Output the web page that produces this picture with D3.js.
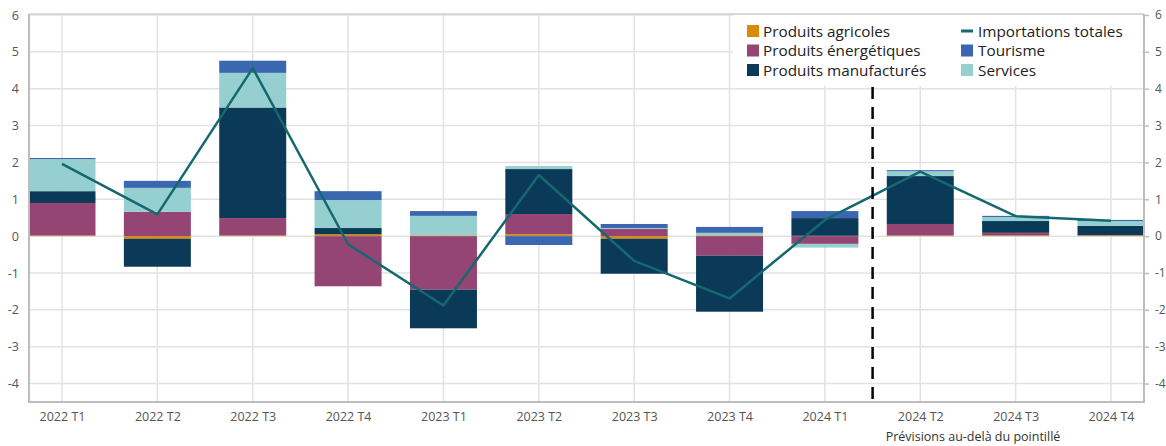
<!DOCTYPE html>
<html><head><meta charset="utf-8">
<script src="https://cdn.jsdelivr.net/npm/d3@7"></script>
<style>
body{margin:0;background:#fff;}
svg text{font-family:"Open Sans","Noto Sans",sans-serif;}
</style></head>
<body><svg id="c" width="1166" height="446"></svg>
<script>
const categories = ["2022 T1","2022 T2","2022 T3","2022 T4","2023 T1","2023 T2","2023 T3","2023 T4","2024 T1","2024 T2","2024 T3","2024 T4"];
const agricoles     = [0.02,-0.07,0.02,0.05,0.02,0.05,-0.07,0.02,0.01,0.02,0.02,0.02];
const energetiques  = [0.88,0.66,0.47,-1.36,-1.45,0.55,0.20,-0.53,-0.21,0.31,0.07,0.01];
const manufactures  = [0.32,-0.76,3.00,0.17,-1.05,1.22,-0.95,-1.52,0.48,1.30,0.32,0.25];
const services      = [0.87,0.65,0.94,0.76,0.53,0.08,0.02,0.07,-0.10,0.13,0.11,0.13];
const tourisme      = [0.03,0.19,0.33,0.24,0.13,-0.24,0.11,0.16,0.19,0.03,0.03,0.03];
const importations  = [1.96,0.59,4.56,-0.22,-1.88,1.66,-0.67,-1.69,0.44,1.75,0.54,0.42];
const yTicks = [-4,-3,-2,-1,0,1,2,3,4,5,6];
const seriesNames = ["Produits agricoles","Produits énergétiques","Produits manufacturés","Services","Tourisme"];
const seriesColors = ["#d98a06","#944573","#0b3a59","#96cfcf","#3b67b1"];
const lineName = "Importations totales";
const lineColor = "#15686f";
const forecastNote = "Prévisions au-delà du pointillé";

const svg = d3.select("#c");
const L = 29, R = 1144, T = 14, B = 402;
const x = d3.scalePoint().domain(categories).range([62, 1111]);
const y = d3.scaleLinear().domain([-4.5, 6]).range([B, 15]);
const barW = 67;

// gridlines
svg.append("g").selectAll("line.h").data(yTicks).join("line")
  .attr("x1", L).attr("x2", R).attr("y1", d => y(d)).attr("y2", d => y(d))
  .attr("stroke", "#e2e2e2").attr("stroke-width", 1.5);
svg.append("g").selectAll("line.v").data(categories).join("line")
  .attr("x1", d => x(d)).attr("x2", d => x(d)).attr("y1", T).attr("y2", B)
  .attr("stroke", "#e2e2e2").attr("stroke-width", 1.5);

// legend background
svg.append("rect").attr("x", 733).attr("y", 15).attr("width", 409).attr("height", 71).attr("fill", "#fff");

// stacked bars
const rows = categories.map((c, i) => ({cat: c, s0: agricoles[i], s1: energetiques[i], s2: manufactures[i], s3: services[i], s4: tourisme[i]}));
const stack = d3.stack().keys(["s0","s1","s2","s3","s4"]).offset(d3.stackOffsetDiverging);
const layers = stack(rows);
svg.append("g").selectAll("g").data(layers).join("g")
  .attr("fill", (d, i) => seriesColors[i])
  .selectAll("rect").data(d => d).join("rect")
  .attr("x", d => x(d.data.cat) - barW / 2)
  .attr("width", barW)
  .attr("y", d => y(Math.max(d[0], d[1])))
  .attr("height", d => Math.abs(y(d[0]) - y(d[1])));

// line
svg.append("path").datum(importations)
  .attr("fill", "none").attr("stroke", lineColor).attr("stroke-width", 2.5)
  .attr("stroke-linejoin", "round")
  .attr("d", d3.line().x((d, i) => x(categories[i])).y(d => y(d)));

// dashed forecast line
const xd = (x(categories[8]) + x(categories[9])) / 2;
svg.append("line").attr("x1", xd).attr("x2", xd).attr("y1", 87).attr("y2", B)
  .attr("stroke", "#000").attr("stroke-width", 2.5).attr("stroke-dasharray", "12,8");

// frame
svg.append("line").attr("x1", L).attr("x2", R).attr("y1", T).attr("y2", T).attr("stroke", "#cfcfcf").attr("stroke-width", 1.5);
svg.append("line").attr("x1", L).attr("x2", R).attr("y1", B).attr("y2", B).attr("stroke", "#bdbdbd").attr("stroke-width", 2);
svg.append("line").attr("x1", L).attr("x2", L).attr("y1", T).attr("y2", B + 1).attr("stroke", "#bdbdbd").attr("stroke-width", 2);
svg.append("line").attr("x1", R).attr("x2", R).attr("y1", T).attr("y2", B + 1).attr("stroke", "#bdbdbd").attr("stroke-width", 2);

// axes
const fmt = d => d < 0 ? "-" + Math.abs(d) : String(d);
const yl = svg.append("g").attr("transform", `translate(${L},0)`)
  .call(d3.axisLeft(y).tickValues(yTicks).tickSize(0).tickPadding(10).tickFormat(fmt));
const yr = svg.append("g").attr("transform", `translate(${R},0)`)
  .call(d3.axisRight(y).tickValues(yTicks).tickSize(5).tickPadding(6).tickFormat(fmt));
const xa = svg.append("g").attr("transform", `translate(0,${B})`)
  .call(d3.axisBottom(x).tickSize(0).tickPadding(10));
[yl, yr, xa].forEach(g => {
  g.select(".domain").remove();
  g.selectAll("text").attr("fill", "#555").attr("font-size", 12.5);
  g.selectAll("line").attr("stroke", "#bdbdbd").attr("stroke-width", 1.5);
});
yr.selectAll("text").attr("font-size", 12);

// note
svg.append("text").attr("x", 973).attr("y", 441).attr("text-anchor", "middle")
  .attr("font-size", 12.5).attr("fill", "#333").text(forecastNote);

// legend
const lg = svg.append("g").attr("font-size", 15.3).attr("fill", "#222");
[0, 1, 2].forEach((k, i) => {
  lg.append("rect").attr("x", 747).attr("y", 25 + i * 19.5).attr("width", 12).attr("height", 12).attr("fill", seriesColors[k]);
  lg.append("text").attr("x", 763).attr("y", 36.5 + i * 19.5).attr("fill", "#222").text(seriesNames[k]);
});
lg.append("line").attr("x1", 961).attr("x2", 973).attr("y1", 31).attr("y2", 31).attr("stroke", lineColor).attr("stroke-width", 3);
lg.append("text").attr("x", 978).attr("y", 36.5).attr("fill", "#222").text(lineName);
[4, 3].forEach((k, i) => {
  lg.append("rect").attr("x", 961).attr("y", 44.5 + i * 19.5).attr("width", 12).attr("height", 12).attr("fill", seriesColors[k]);
  lg.append("text").attr("x", 978).attr("y", 56 + i * 19.5).attr("fill", "#222").text(seriesNames[k]);
});
</script></body></html>
